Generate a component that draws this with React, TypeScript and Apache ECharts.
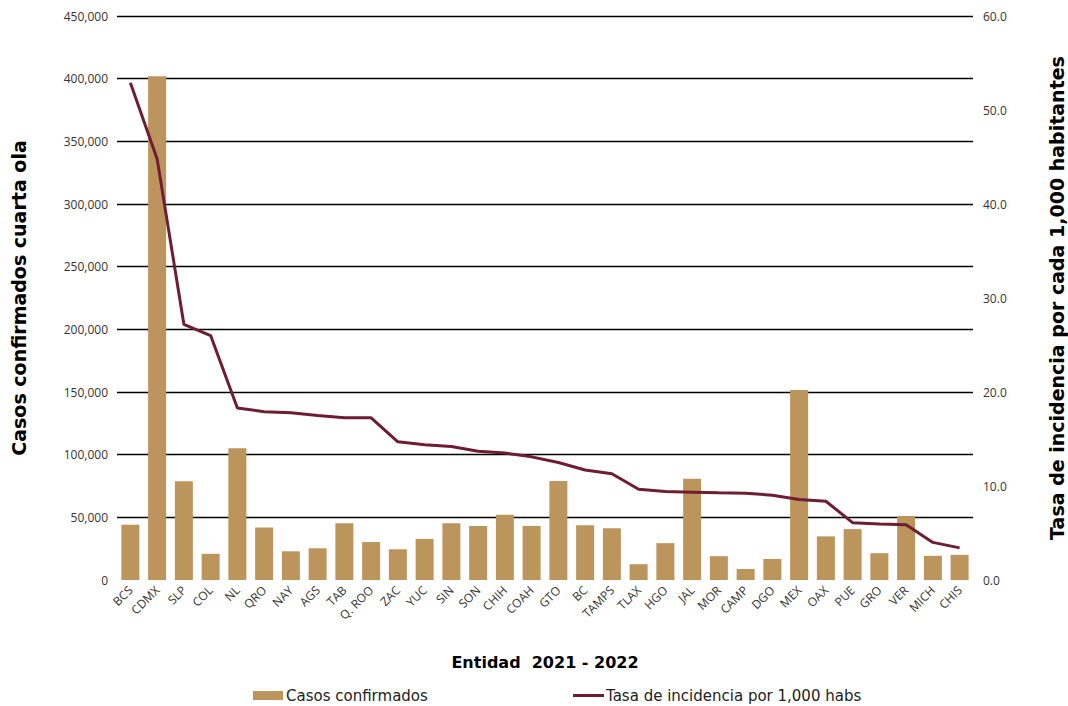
import React, { useEffect, useRef } from "react";
import * as echarts from "echarts";

const categories = ["BCS","CDMX","SLP","COL","NL","QRO","NAY","AGS","TAB","Q. ROO","ZAC","YUC","SIN","SON","CHIH","COAH","GTO","BC","TAMPS","TLAX","HGO","JAL","MOR","CAMP","DGO","MEX","OAX","PUE","GRO","VER","MICH","CHIS"];
const casos = [44100,402000,78700,20900,105200,41900,22900,25300,45200,30300,24500,32800,45200,43000,52000,43000,78900,43600,41200,12600,29400,80700,19000,8800,16800,151600,34800,40600,21400,51100,19300,20100];
const tasa = [52.9,44.8,27.2,26.0,18.3,17.9,17.8,17.5,17.25,17.25,14.7,14.4,14.2,13.7,13.5,13.1,12.5,11.7,11.3,9.66,9.41,9.34,9.27,9.23,9.02,8.56,8.38,6.1,5.95,5.88,4.0,3.42];
const seriesNames = ["Casos confirmados", "Tasa de incidencia por 1,000 habs"];
const leftTitle = "Casos confirmados cuarta ola";
const rightTitle = "Tasa de incidencia por cada 1,000 habitantes";
const xTitle = "Entidad  2021 - 2022";

const FONT = "'Open Sans', 'Noto Sans', sans-serif";
const WIDE = "'DejaVu Sans', sans-serif";

export default function App() {
  const ref = useRef<HTMLDivElement>(null);
  useEffect(() => {
    if (!ref.current) return;
    const chart = echarts.init(ref.current, undefined, { renderer: "svg" });
    chart.setOption({
      animation: false,
      backgroundColor: "#ffffff",
      textStyle: { fontFamily: FONT },
      grid: { left: 117, right: 95, top: 16, bottom: 126, containLabel: false, outerBoundsMode: "none" },
      legend: [
        {
          data: [{ name: seriesNames[0], icon: "rect" }],
          left: 253,
          top: 688,
          padding: 0,
          itemWidth: 30,
          itemHeight: 9,
          itemGap: 4,
          textStyle: { fontSize: 15, color: "#222", fontFamily: WIDE, padding: [0, 0, 0, -2] },
        },
        {
          data: [{ name: seriesNames[1], icon: "rect" }],
          left: 573,
          top: 688,
          padding: 0,
          itemWidth: 31,
          itemHeight: 3,
          textStyle: { fontSize: 15, color: "#222", fontFamily: WIDE, padding: [0, 0, 0, -3] },
        },
      ],
      xAxis: {
        type: "category",
        data: categories,
        axisLine: { show: false },
        axisTick: { show: false },
        axisLabel: { rotate: 45, fontSize: 12, color: "#333", interval: 0, margin: 8, fontFamily: FONT },
        name: xTitle,
        nameLocation: "middle",
        nameGap: 74,
        nameTextStyle: { fontSize: 16, fontWeight: "bold", color: "#000", fontFamily: WIDE },
      },
      yAxis: [
        {
          type: "value",
          min: 0,
          max: 450000,
          interval: 50000,
          axisLine: { show: false },
          axisTick: { show: false },
          axisLabel: {
            fontSize: 12,
            color: "#333",
            margin: 9,
            fontFamily: FONT,
            formatter: (v: number) => v.toLocaleString("en-US"),
          },
          splitLine: { show: true, showMinLine: false, lineStyle: { color: "#000", width: 1.3 } },
          name: leftTitle,
          nameLocation: "middle",
          nameRotate: 90,
          nameGap: 89,
          nameTextStyle: { fontSize: 19, fontWeight: "bold", color: "#000", fontFamily: WIDE },
        },
        {
          type: "value",
          min: 0,
          max: 60,
          interval: 10,
          axisLine: { show: false },
          axisTick: { show: false },
          splitLine: { show: false },
          axisLabel: {
            fontSize: 12,
            color: "#333",
            margin: 10,
            fontFamily: FONT,
            formatter: (v: number) => v.toFixed(1),
          },
          name: rightTitle,
          nameLocation: "middle",
          nameRotate: 90,
          nameGap: 74,
          nameTextStyle: { fontSize: 19, fontWeight: "bold", color: "#000", fontFamily: WIDE },
        },
      ],
      series: [
        {
          name: seriesNames[0],
          type: "bar",
          data: casos,
          yAxisIndex: 0,
          barWidth: 18,
          itemStyle: { color: "#BC955C" },
        },
        {
          name: seriesNames[1],
          type: "line",
          data: tasa,
          yAxisIndex: 1,
          symbol: "none",
          lineStyle: { color: "#6F1D32", width: 3 },
          itemStyle: { color: "#6F1D32" },
        },
      ],
    });
    return () => chart.dispose();
  }, []);
  return (
    <div
      ref={ref}
      style={{ position: "fixed", left: 0, top: 0, width: 1068, height: 706, background: "#fff" }}
    />
  );
}
